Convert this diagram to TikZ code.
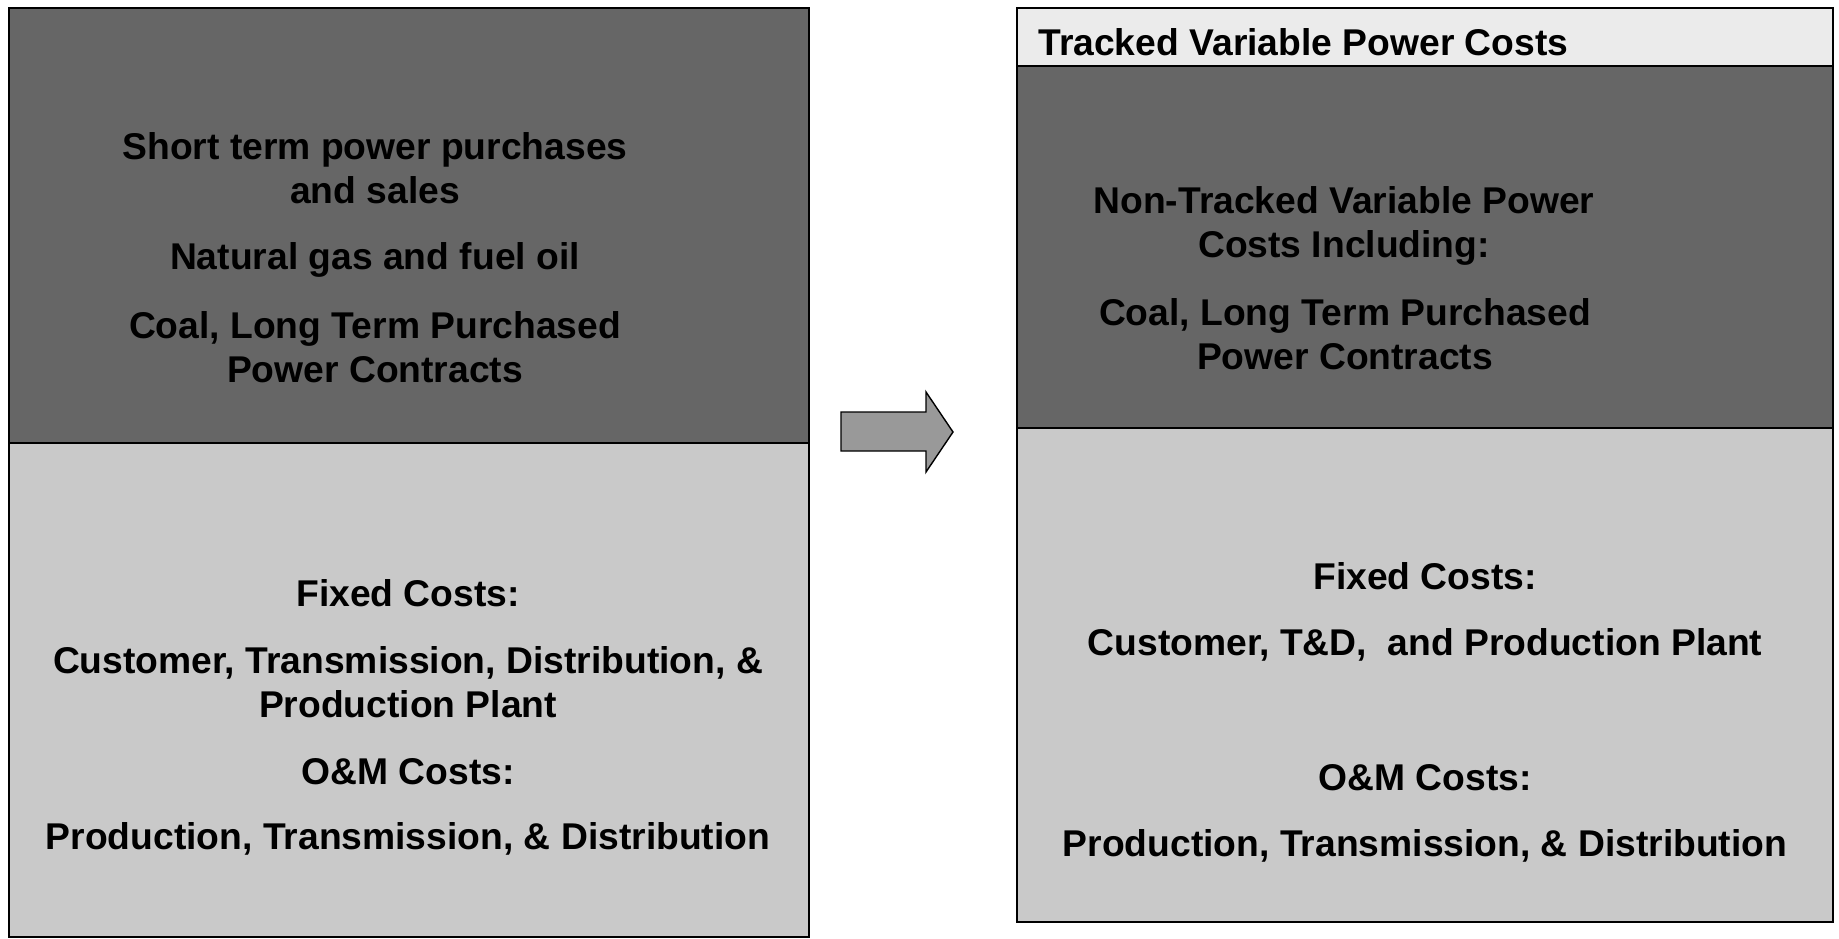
\documentclass[tikz,border=0pt]{standalone}
\usepackage{fontspec}
\setmainfont{Liberation Sans}
\definecolor{darkband}{HTML}{666666}
\definecolor{lightband}{HTML}{C9C9C9}
\definecolor{titleband}{HTML}{EBEBEB}
\definecolor{arrowfill}{HTML}{999999}
\begin{document}
\begin{tikzpicture}[x=0.02cm,y=-0.02cm,
  band/.style={draw=black,line width=0.8pt},
  txt/.style={align=center,inner sep=0,font=\fontsize{21.2}{25.2}\selectfont\bfseries}]
\useasboundingbox (0,0) rectangle (1839,939);
% left column
\draw[band,fill=darkband](9,8)rectangle(809,443);
\draw[band,fill=lightband](9,443)rectangle(809,937);
\node[txt](ls)at(375,168){Short term power purchases\\and sales};
\node[txt](lg)at(375,260){Natural gas and fuel oil};
\node[txt](lc)at(375,347){Coal, Long Term Purchased\\Power Contracts};
\node[txt](lf)at(408,593){Fixed Costs:};
\node[txt](lt)at(408,682){Customer, Transmission, Distribution, \&\\Production Plant};
\node[txt](lo)at(408,772){O\&M Costs:};
\node[txt](lp)at(408,839){Production, Transmission, \& Distribution};
% block arrow
\draw[band,fill=arrowfill](841,412)--(926,412)--(926,392)--(953,432)--(926,472)--(926,451)--(841,451)--cycle;
% right column
\draw[band,fill=titleband](1017,8)rectangle(1833,66);
\draw[band,fill=darkband](1017,66)rectangle(1833,428);
\draw[band,fill=lightband](1017,428)rectangle(1833,922);
\node[txt,anchor=west](rtitle)at(1038,42){Tracked Variable Power Costs};
\node[txt](rn)at(1344,226){Non-Tracked Variable Power\\Costs Including:};
\node[txt](rc)at(1345,334){Coal, Long Term Purchased\\Power Contracts};
\node[txt](rf)at(1425,576){Fixed Costs:};
\node[txt](rt)at(1425,645){Customer, T\&D,\ \ and Production Plant};
\node[txt](ro)at(1425,778){O\&M Costs:};
\node[txt](rp)at(1425,846){Production, Transmission, \& Distribution};
\end{tikzpicture}
\end{document}
